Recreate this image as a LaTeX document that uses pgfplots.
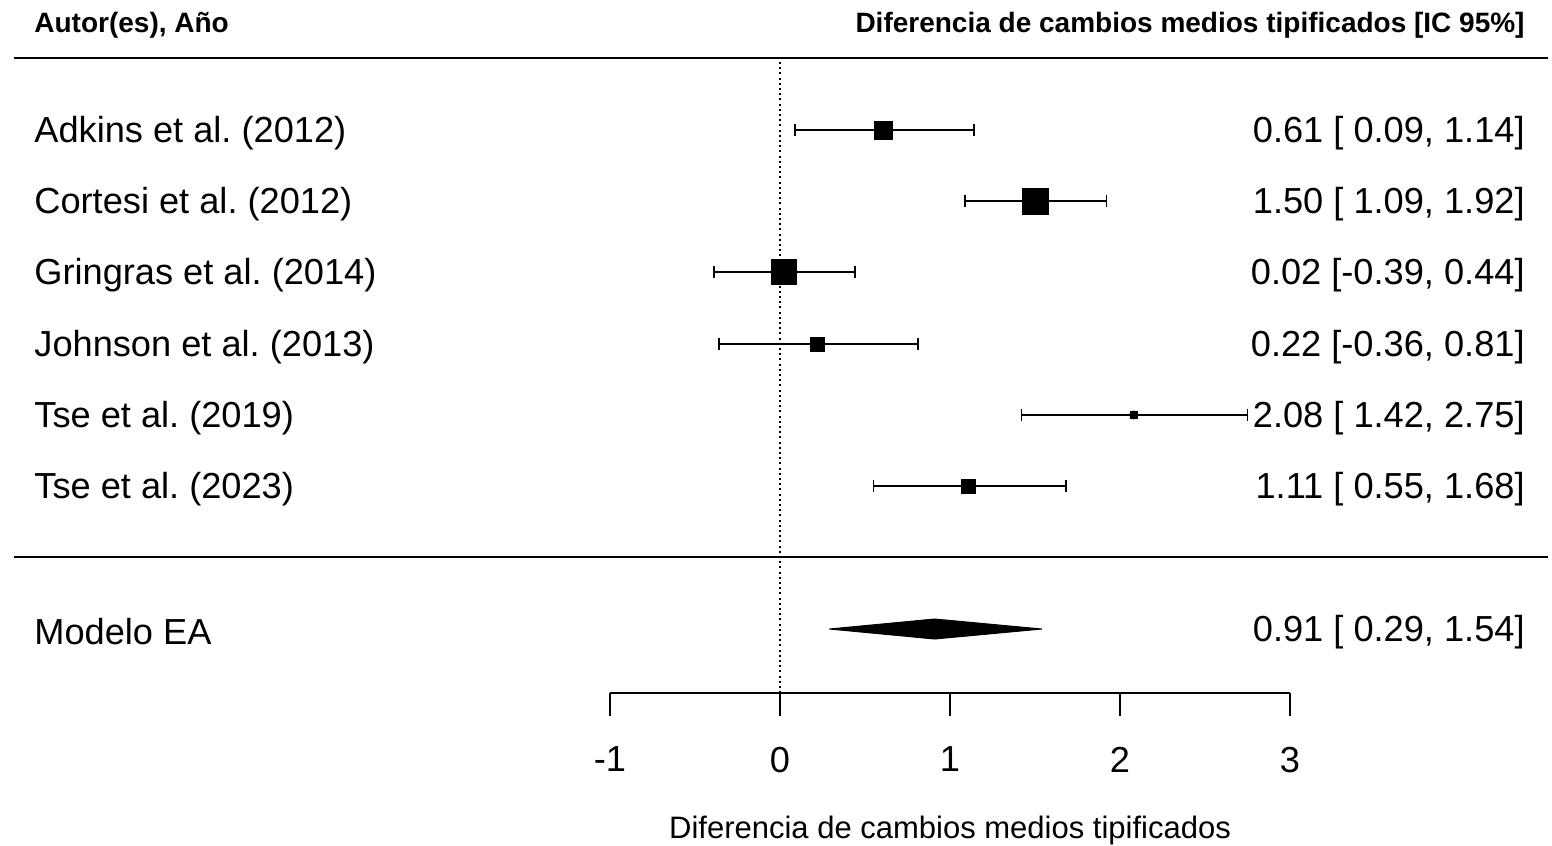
\documentclass[border=0pt]{standalone}
\usepackage{fontspec}
\setmainfont{Liberation Sans}
\usepackage{pgfplots}
\pgfplotsset{compat=1.18}
\usepackage{pgfplotstable}
\frenchspacing

% est lo hi half(pt) y(-px)
\pgfplotstableread{
est lo hi half y
0.61 0.09 1.14 4.5 -130
1.50 1.09 1.92 6.5 -201
0.02 -0.39 0.44 6.25 -272
0.22 -0.36 0.81 3.5 -344
2.08 1.42 2.75 1.75 -415
1.11 0.55 1.68 3.5 -486
}\studies

\newcommand{\rowfont}{\fontsize{18.1}{21}\selectfont}
\newcommand{\headfont}{\fontsize{14}{16}\selectfont\bfseries}
\tikzset{lbl/.style={inner sep=0pt, yshift=-1.4pt}}

\begin{document}
\begin{tikzpicture}
\begin{axis}[scale only axis, width=776pt, height=422.5pt,
  xmin=-4.588235, xmax=4.541176, ymin=-845, ymax=0,
  hide axis, clip=false, at={(0,0)}, anchor=south west]
  % invisible frame for bounding box
  \addplot[draw=none, mark=none] coordinates {(-4.588235,-845) (4.541176,0)};
  % rules
  \addplot[black, line width=0.9pt, mark=none] coordinates {(-4.50588,-58) (4.51765,-58)};
  \addplot[black, line width=0.9pt, mark=none] coordinates {(-4.50588,-557) (4.51765,-557)};
  % reference line
  \addplot[black, line width=0.75pt, dash pattern=on 1pt off 1.6pt, mark=none] coordinates {(0,-62) (0,-693)};
  % CIs
  \addplot[only marks, mark=none,
    error bars/.cd, x dir=both, x explicit,
    error bar style={line width=0.8pt, black},
    error mark options={rotate=90, mark size=3.2pt, line width=0.9pt, black}]
    table[x=est, y=y, x error plus expr=\thisrow{hi}-\thisrow{est}, x error minus expr=\thisrow{est}-\thisrow{lo}] {\studies};
  % squares
  \addplot[only marks, mark=square*, scatter, point meta=explicit,
    scatter/use mapped color={draw=black, fill=black},
    visualization depends on={\thisrow{half}\as\perpointmarksize},
    scatter/@pre marker code/.append style={/tikz/mark size=\perpointmarksize}]
    table[x=est, y=y, meta=half] {\studies};
  % summary diamond
  \addplot[fill=black, draw=black, line width=0.5pt, mark=none]
    coordinates {(0.29,-629) (0.91,-619) (1.54,-629) (0.91,-639) (0.29,-629)};
  % headers
  \node[anchor=west, lbl] at (axis cs:-4.3882,-22) {\headfont Autor(es), Año};
  \node[anchor=east, lbl] at (axis cs:4.38235,-22) {\headfont Diferencia de cambios medios tipificados [IC 95\%]};
  % study labels
  \node[anchor=west, lbl] at (axis cs:-4.3882,-130) {\rowfont Adkins et al. (2012)};
  \node[anchor=west, lbl] at (axis cs:-4.3882,-201) {\rowfont Cortesi et al. (2012)};
  \node[anchor=west, lbl] at (axis cs:-4.3882,-272) {\rowfont Gringras et al. (2014)};
  \node[anchor=west, lbl] at (axis cs:-4.3882,-344) {\rowfont Johnson et al. (2013)};
  \node[anchor=west, lbl] at (axis cs:-4.3882,-415) {\rowfont Tse et al. (2019)};
  \node[anchor=west, lbl] at (axis cs:-4.3882,-486) {\rowfont Tse et al. (2023)};
  \node[anchor=west, lbl] at (axis cs:-4.3882,-629) {\rowfont Modelo EA};
  % estimates
  \node[anchor=east, lbl] at (axis cs:4.38235,-130) {\rowfont 0.61 [ 0.09, 1.14]};
  \node[anchor=east, lbl] at (axis cs:4.38235,-201) {\rowfont 1.50 [ 1.09, 1.92]};
  \node[anchor=east, lbl] at (axis cs:4.38235,-272) {\rowfont 0.02 [-0.39, 0.44]};
  \node[anchor=east, lbl] at (axis cs:4.38235,-344) {\rowfont 0.22 [-0.36, 0.81]};
  \node[anchor=east, lbl] at (axis cs:4.38235,-415) {\rowfont 2.08 [ 1.42, 2.75]};
  \node[anchor=east, lbl] at (axis cs:4.38235,-486) {\rowfont 1.11 [ 0.55, 1.68]};
  \node[anchor=east, lbl] at (axis cs:4.38235,-629) {\rowfont 0.91 [ 0.29, 1.54]};
  % x axis title
  \node[anchor=center, lbl] at (axis cs:1,-828) {\fontsize{15.5}{18}\selectfont Diferencia de cambios medios tipificados};
\end{axis}
\begin{axis}[scale only axis, at={(305pt,76pt)}, anchor=south west,
  width=340pt, height=10pt, xmin=-1, xmax=3, ymin=0, ymax=1,
  axis x line=bottom, axis y line=none,
  axis line style={-, line width=0.75pt, black},
  xtick={-1,0,1,2,3}, xticklabels={-1,0,1,2,3},
  tick align=outside, major tick length=11.5pt,
  tick style={line width=0.75pt, black},
  xticklabel style={font=\rowfont, yshift=-12pt}]
  \addplot[draw=none, mark=none] coordinates {(0,0.5)};
\end{axis}
\end{tikzpicture}
\end{document}
